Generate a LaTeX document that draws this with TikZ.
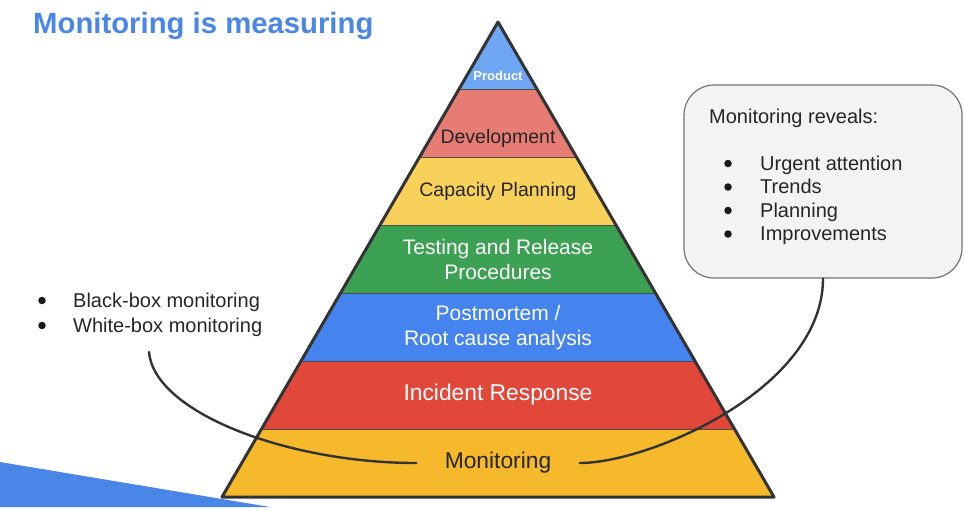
\documentclass[tikz,border=0pt]{standalone}
\usepackage{fontspec}
\setmainfont{Liberation Sans}
\usetikzlibrary{positioning, calc}
\definecolor{titleblue}{HTML}{4A86E8}
\definecolor{lprod}{HTML}{6EA6F4}
\definecolor{ldev}{HTML}{E67C73}
\definecolor{lcap}{HTML}{F8D15A}
\definecolor{ltest}{HTML}{3DA153}
\definecolor{lpost}{HTML}{4584EE}
\definecolor{linc}{HTML}{E2483A}
\definecolor{lmon}{HTML}{F6B92B}
\definecolor{inkgray}{HTML}{333333}
\definecolor{boxbg}{HTML}{F3F3F3}
\tikzset{
  % titolo della slide
  slidetitle/.style={font=\fontsize{29.3}{34}\selectfont\bfseries, text=titleblue,
    anchor=base west, inner sep=0pt},
  % etichette degli strati
  lbl/.style={font=\fontsize{19.5}{25}\selectfont, align=center, inner sep=1pt},
  lbl dark/.style={lbl, text=black!85},
  lbl light/.style={lbl, text=white},
  lbl mid/.style={font=\fontsize{21}{25}\selectfont},
  lbl big/.style={font=\fontsize{22.8}{28}\selectfont},
  lbl small/.style={font=\fontsize{13}{15}\selectfont\bfseries, text=white, inner sep=1pt},
  % contorno della piramide e separatori
  pyr/.style={line width=3pt, inkgray, line join=round},
  sep/.style={line width=1.2pt, black!70},
  % riquadro laterale
  revbox/.style={draw=black!55, line width=1.2pt, fill=boxbg, rounded corners=30pt,
    minimum width=278pt, minimum height=193pt},
  % voci degli elenchi
  item/.style={font=\fontsize{20}{24}\selectfont, text=black!85, anchor=base west,
    inner sep=0pt},
  bul/.style={circle, fill=black!90, minimum size=7.5pt, inner sep=0pt},
  % collegamenti curvi
  link/.style={line width=2.4pt, inkgray, line cap=round},
}
\begin{document}
\begin{tikzpicture}[x=1pt, y=-1pt]
  \useasboundingbox (0,0) rectangle (964,507);
  \fill[titleblue] (0,462) -- (270,507) -- (0,507) -- cycle;
  \node[slidetitle] (title) at (33,33) {Monitoring is measuring};
  \coordinate (top) at (498,22);
  \coordinate (bl) at (222,497);
  \coordinate (br) at (774,497);
  \begin{scope}
    \clip (top) -- (bl) -- (br) -- cycle;
    \foreach \k/\c in {0/lprod, 1/ldev, 2/lcap, 3/ltest, 4/lpost, 5/linc, 6/lmon}
      \fill[\c] (200,{22+\k*67.857}) rectangle (800,{22+(\k+1)*67.857});
  \end{scope}
  \foreach \k in {1,...,6}
    \draw[sep] ({498-\k*39.43},{22+\k*67.857}) -- ({498+\k*39.43},{22+\k*67.857});
  \draw[pyr] (top) -- (bl) -- (br) -- cycle;
  \node[lbl small] (prod) at (498,76) {Product};
  \node[lbl dark] (dev) at (498,138) {Development};
  \node[lbl dark] (cap) at (498,191) {Capacity Planning};
  \node[lbl light, lbl mid] (test) at (498,259) {Testing and Release\\Procedures};
  \node[lbl light, lbl mid] (post) at (498,328) {Postmortem /\\Root cause analysis};
  \node[lbl light, lbl big] (inc) at (498,395) {Incident Response};
  \node[lbl dark, lbl big, minimum width=163pt] (mon) at (498,463) {Monitoring};
  \node[revbox] (rev) at (823,181.5) {};
  \node[item] (revhead) at (709,123) {Monitoring reveals:};
  \foreach \t [count=\i] in {Urgent attention, Trends, Planning, Improvements} {
    \node[bul] (rb-\i) at (728,{140+\i*23.5}) {};
    \node[item] (ri-\i) at (760,{146.5+\i*23.5}) {\t};
  }
  \foreach \t [count=\i] in {Black-box monitoring, White-box monitoring} {
    \node[bul] (lb-\i) at (42,{275.5+\i*25}) {};
    \node[item] (li-\i) at (73,{282+\i*25}) {\t};
  }
  \coordinate (bbend) at (149,352);
  \draw[link] (bbend) .. controls +(5,60) and +(-130,0) .. (mon.west);
  \draw[link] (rev.south) .. controls +(0,110) and +(70,0) .. (mon.east);
\end{tikzpicture}
\end{document}
